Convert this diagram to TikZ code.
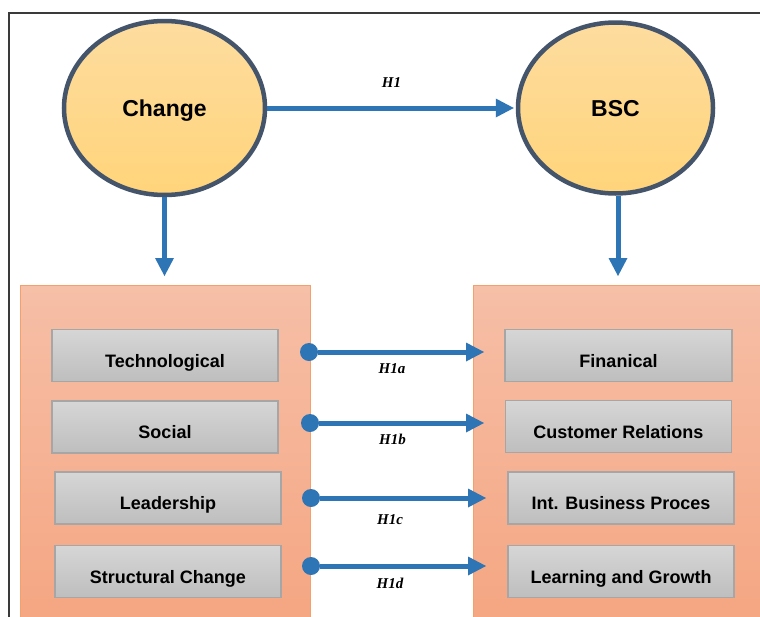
\documentclass[tikz,border=0pt]{standalone}
\usepackage{fontspec}
\setmainfont{Liberation Sans}
\newfontfamily\hypfont{Liberation Serif}
\usetikzlibrary{arrows.meta,shapes.geometric}

\definecolor{framegray}{HTML}{3A3A3A}
\definecolor{rimslate}{HTML}{44546A}
\definecolor{sandtop}{HTML}{FDDC9F}
\definecolor{sandbot}{HTML}{FFD47A}
\definecolor{flowblue}{HTML}{2E75B6}
\definecolor{salmontop}{HTML}{F6BFA7}
\definecolor{salmonbot}{HTML}{F5A47F}
\definecolor{salmonrim}{HTML}{F4A06C}
\definecolor{greytop}{HTML}{D6D6D6}
\definecolor{greybot}{HTML}{BEBEBE}
\definecolor{greyrim}{HTML}{A6A6A6}

\begin{document}
\begin{tikzpicture}[x=1pt,y=-1pt,
  concept/.style={ellipse, draw=rimslate, line width=4.5pt,
    top color=sandtop, bottom color=sandbot, inner sep=0pt,
    minimum width=201pt, minimum height=174pt,
    font=\fontsize{23}{26}\selectfont\bfseries, text height=17pt, text depth=0pt},
  group/.style={rectangle, draw=salmonrim, line width=1.2pt,
    top color=salmontop, bottom color=salmonbot, inner sep=0pt,
    anchor=north west},
  item/.style={rectangle, draw=greyrim, line width=1.5pt,
    top color=greytop, bottom color=greybot, inner sep=0pt,
    minimum width=226pt, minimum height=52pt,
    font=\fontsize{18}{20}\selectfont\bfseries, text height=23pt, text depth=0pt},
  flow/.style={draw=flowblue, line width=5pt,
    -{Triangle[length=18pt,width=19pt,line width=0pt]}},
  hyp/.style={draw=flowblue, line width=5pt,
    {Circle[length=18pt,line width=0pt]}-{Triangle[length=18pt,width=19pt,line width=0pt]}},
  hlabel/.style={font=\hypfont\fontsize{15}{17}\selectfont\bfseries\itshape, inner sep=0pt}
]
\clip (0,0) rectangle (760,616);
\fill[white] (0,0) rectangle (760,616);

% outer frame (open towards the right and bottom edges)
\draw[framegray, line width=1.5pt] (9,640) -- (9,13) -- (790,13);

% constructs
\node[concept] (change) at (164.5,108) {Change};
\node[concept, minimum width=195pt, minimum height=171pt] (bsc) at (615.5,108) {BSC};

% dimension panels
\node[group, minimum width=290pt, minimum height=360pt] (dims) at (20,285) {};
\node[group, minimum width=320pt, minimum height=360pt] (persp) at (473,285) {};

% change dimensions
\node[item] (tech) at (165,355.5) {Technological};
\node[item] (soc)  at (165,427)   {Social};
\node[item] (lead) at (168,498)   {Leadership};
\node[item] (struc) at (168,571.5) {Structural Change};

% BSC perspectives
\node[item, minimum width=227pt] (fin)  at (618.5,355.5) {Finanical};
\node[item] (cust) at (618.5,426.5) {Customer Relations};
\node[item] (ibp)  at (621,498)     {Int. Business Proces};
\node[item] (lg)   at (621,571.5)   {Learning and Growth};

% main hypothesis
\draw[flow, shorten >=2pt] (change.east) -- node[hlabel, midway, yshift=25pt] {H1} (bsc.west);

% downward links to the panels
\coordinate (cdown) at (164.5,276);
\coordinate (bdown) at (618,276);
\draw[flow] (change.south) -- (cdown);
\draw[flow] (bsc.south -| bdown) -- (bdown);

% sub-hypotheses
\coordinate (s1) at (300,352);  \coordinate (t1) at (484,352);
\coordinate (s2) at (301,423);  \coordinate (t2) at (484,423);
\coordinate (s3) at (302,498);  \coordinate (t3) at (486,498);
\coordinate (s4) at (302,566);  \coordinate (t4) at (486,566);
\draw[hyp] (s1) -- node[hlabel, midway, yshift=-17pt] {H1a} (t1);
\draw[hyp] (s2) -- node[hlabel, midway, yshift=-16pt] {H1b} (t2);
\draw[hyp] (s3) -- node[hlabel, midway, yshift=-22pt, xshift=-4pt] {H1c} (t3);
\draw[hyp] (s4) -- node[hlabel, midway, yshift=-17pt, xshift=-4pt] {H1d} (t4);
\end{tikzpicture}
\end{document}
